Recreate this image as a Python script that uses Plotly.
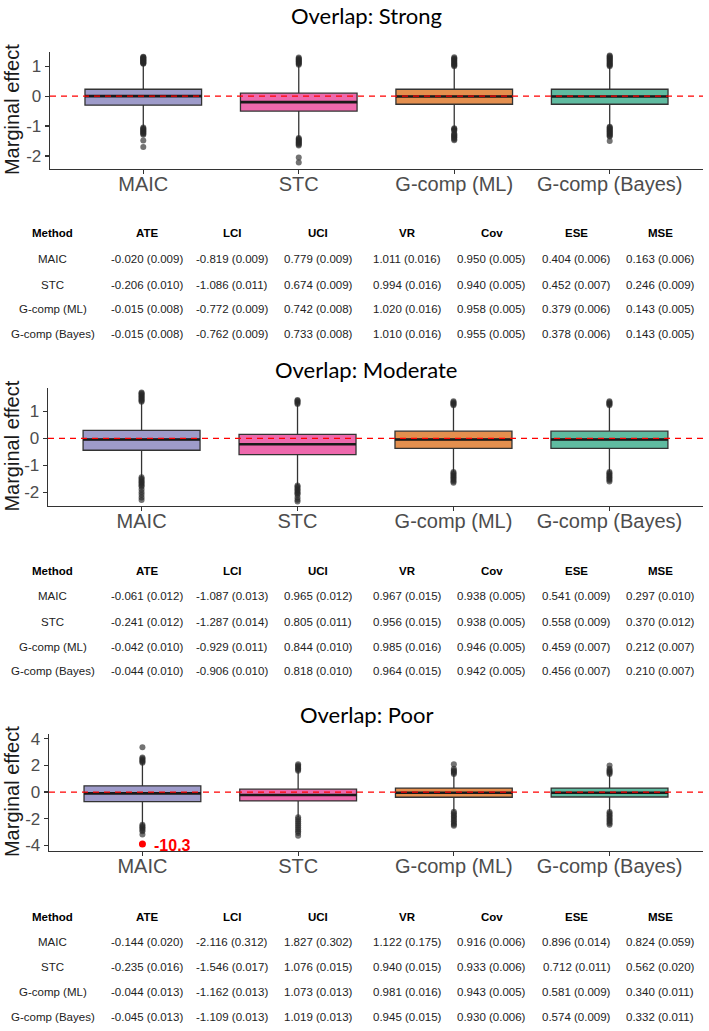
import plotly.graph_objects as go

W, H = 709, 1031

methods = ["MAIC", "STC", "G-comp (ML)", "G-comp (Bayes)"]
box_colors = ["#9E9BCA", "#EE69AD", "#E48F4E", "#5FBBA0"]

# ---------------- Box statistics ----------------
strong_q1 = [-0.30, -0.50, -0.27, -0.27]
strong_median = [0.00, -0.20, -0.01, -0.01]
strong_q3 = [0.23, 0.10, 0.23, 0.23]
strong_lower = [-1.05, -1.38, -1.05, -1.02]
strong_upper = [1.08, 1.05, 1.00, 1.00]
strong_out_maic = [1.08, 1.10, 1.12, 1.14, 1.16, 1.18, 1.20, 1.22, 1.24, 1.26, 1.28, 1.30, 1.32,
                   -1.05, -1.08, -1.11, -1.14, -1.17, -1.20, -1.23, -1.26, -1.29, -1.48, -1.70]
strong_out_stc = [1.05, 1.08, 1.11, 1.14, 1.17, 1.20, 1.23, 1.26, 1.29,
                  -1.40, -1.43, -1.46, -1.49, -1.52, -1.55, -1.58, -1.62, -1.65, -2.05, -2.22]
strong_out_ml = [1.00, 1.03, 1.06, 1.09, 1.12, 1.15, 1.18, 1.21, 1.24, 1.27, 1.30,
                 -1.07, -1.10, -1.13, -1.16, -1.25, -1.28, -1.31, -1.34, -1.37, -1.40, -1.44, -1.47]
strong_out_bayes = [1.00, 1.03, 1.06, 1.09, 1.12, 1.15, 1.18, 1.21, 1.24, 1.27, 1.30, 1.33, 1.36,
                    -1.02, -1.05, -1.08, -1.11, -1.14, -1.17, -1.20, -1.23, -1.26, -1.29, -1.32, -1.35, -1.50]

moderate_q1 = [-0.44, -0.60, -0.37, -0.37]
moderate_median = [-0.04, -0.22, -0.04, -0.04]
moderate_q3 = [0.30, 0.15, 0.27, 0.27]
moderate_lower = [-1.45, -1.73, -1.25, -1.25]
moderate_upper = [1.36, 1.27, 1.23, 1.23]
moderate_out_maic = [1.36, 1.40, 1.44, 1.48, 1.52, 1.56, 1.60, 1.64, 1.68, 1.71,
                     -1.45, -1.50, -1.55, -1.60, -1.65, -1.70, -1.75, -1.80, -1.90, -2.00, -2.10, -2.20, -2.29]
moderate_out_stc = [1.28, 1.32, 1.36, 1.40, 1.43,
                    -1.75, -1.80, -1.85, -1.90, -1.95, -2.00, -2.05, -2.10, -2.20, -2.28, -2.35]
moderate_out_ml = [1.23, 1.27, 1.31, 1.35, 1.38,
                   -1.25, -1.30, -1.35, -1.40, -1.45, -1.50, -1.55, -1.60, -1.65]
moderate_out_bayes = [1.23, 1.27, 1.31, 1.35, 1.38,
                      -1.25, -1.30, -1.35, -1.40, -1.45, -1.50, -1.55, -1.60]

poor_q1 = [-0.72, -0.67, -0.39, -0.37]
poor_median = [-0.10, -0.22, -0.05, -0.05]
poor_q3 = [0.47, 0.22, 0.30, 0.30]
poor_lower = [-2.45, -1.90, -1.45, -1.48]
poor_upper = [2.20, 1.60, 1.36, 1.36]
poor_out_maic = [2.20, 2.28, 2.36, 2.44, 2.52, 2.60, 3.38,
                 -2.45, -2.55, -2.65, -2.75, -2.85, -2.95, -3.20]
poor_out_stc = [1.60, 1.70, 1.80, 1.90, 2.00, 2.10,
                -1.90, -2.05, -2.20, -2.35, -2.50, -2.65, -2.80, -2.95, -3.08, -3.28]
poor_out_ml = [1.36, 1.45, 1.55, 1.65, 1.75, 2.10,
               -1.48, -1.60, -1.72, -1.84, -1.96, -2.08, -2.20, -2.32, -2.44, -2.54]
poor_out_bayes = [1.36, 1.45, 1.55, 1.65, 1.75, 2.00,
                  -1.50, -1.62, -1.74, -1.86, -1.98, -2.10, -2.22, -2.34, -2.46]
poor_offscale_value = -10.3
poor_offscale_shown_at = -3.9

# ---------------- Table values ----------------
table_headers = ["Method", "ATE", "LCI", "UCI", "VR", "Cov", "ESE", "MSE"]

strong_ate = ["-0.020 (0.009)", "-0.206 (0.010)", "-0.015 (0.008)", "-0.015 (0.008)"]
strong_lci = ["-0.819 (0.009)", "-1.086 (0.011)", "-0.772 (0.009)", "-0.762 (0.009)"]
strong_uci = ["0.779 (0.009)", "0.674 (0.009)", "0.742 (0.008)", "0.733 (0.008)"]
strong_vr = ["1.011 (0.016)", "0.994 (0.016)", "1.020 (0.016)", "1.010 (0.016)"]
strong_cov = ["0.950 (0.005)", "0.940 (0.005)", "0.958 (0.005)", "0.955 (0.005)"]
strong_ese = ["0.404 (0.006)", "0.452 (0.007)", "0.379 (0.006)", "0.378 (0.006)"]
strong_mse = ["0.163 (0.006)", "0.246 (0.009)", "0.143 (0.005)", "0.143 (0.005)"]

moderate_ate = ["-0.061 (0.012)", "-0.241 (0.012)", "-0.042 (0.010)", "-0.044 (0.010)"]
moderate_lci = ["-1.087 (0.013)", "-1.287 (0.014)", "-0.929 (0.011)", "-0.906 (0.010)"]
moderate_uci = ["0.965 (0.012)", "0.805 (0.011)", "0.844 (0.010)", "0.818 (0.010)"]
moderate_vr = ["0.967 (0.015)", "0.956 (0.015)", "0.985 (0.016)", "0.964 (0.015)"]
moderate_cov = ["0.938 (0.005)", "0.938 (0.005)", "0.946 (0.005)", "0.942 (0.005)"]
moderate_ese = ["0.541 (0.009)", "0.558 (0.009)", "0.459 (0.007)", "0.456 (0.007)"]
moderate_mse = ["0.297 (0.010)", "0.370 (0.012)", "0.212 (0.007)", "0.210 (0.007)"]

poor_ate = ["-0.144 (0.020)", "-0.235 (0.016)", "-0.044 (0.013)", "-0.045 (0.013)"]
poor_lci = ["-2.116 (0.312)", "-1.546 (0.017)", "-1.162 (0.013)", "-1.109 (0.013)"]
poor_uci = ["1.827 (0.302)", "1.076 (0.015)", "1.073 (0.013)", "1.019 (0.013)"]
poor_vr = ["1.122 (0.175)", "0.940 (0.015)", "0.981 (0.016)", "0.945 (0.015)"]
poor_cov = ["0.916 (0.006)", "0.933 (0.006)", "0.943 (0.005)", "0.930 (0.006)"]
poor_ese = ["0.896 (0.014)", "0.712 (0.011)", "0.581 (0.009)", "0.574 (0.009)"]
poor_mse = ["0.824 (0.059)", "0.562 (0.020)", "0.340 (0.011)", "0.332 (0.011)"]

# ---------------- Layout geometry (pixels) ----------------
def fx(px):
    return px / W

def fy(py):
    return 1 - py / H

panels = [
    dict(title="Overlap: Strong", q1=strong_q1, med=strong_median, q3=strong_q3,
         lo=strong_lower, hi=strong_upper,
         outs=[strong_out_maic, strong_out_stc, strong_out_ml, strong_out_bayes],
         cols=[methods, strong_ate, strong_lci, strong_uci, strong_vr, strong_cov, strong_ese, strong_mse],
         px=(50, 703), py=(48, 166), yr=[-2.42, 1.49], yt=[-2, -1, 0, 1],
         title_y=12, rows_y=[231.5, 257.5, 283, 308, 333]),
    dict(title="Overlap: Moderate", q1=moderate_q1, med=moderate_median, q3=moderate_q3,
         lo=moderate_lower, hi=moderate_upper,
         outs=[moderate_out_maic, moderate_out_stc, moderate_out_ml, moderate_out_bayes],
         cols=[methods, moderate_ate, moderate_lci, moderate_uci, moderate_vr, moderate_cov, moderate_ese, moderate_mse],
         px=(48, 703), py=(387, 506), yr=[-2.5, 1.89], yt=[-2, -1, 0, 1],
         title_y=369, rows_y=[571.5, 597, 623, 648.5, 673]),
    dict(title="Overlap: Poor", q1=poor_q1, med=poor_median, q3=poor_q3,
         lo=poor_lower, hi=poor_upper,
         outs=[poor_out_maic, poor_out_stc, poor_out_ml, poor_out_bayes],
         cols=[methods, poor_ate, poor_lci, poor_uci, poor_vr, poor_cov, poor_ese, poor_mse],
         px=(49, 703), py=(736, 854), yr=[-4.4, 4.4], yt=[-4, -2, 0, 2, 4],
         title_y=717, rows_y=[921, 946.5, 971.5, 996.5, 1021.5]),
]

col_x = [53, 147, 232, 318, 407, 491.5, 576.5, 660]

fig = go.Figure()
annotations = []
shapes = []
layout_axes = {}

AX = "#333333"
TXT = "#4D4D4D"
FONT = "Liberation Sans, Arial, sans-serif"

for k, p in enumerate(panels, start=1):
    xa = "x" if k == 1 else f"x{k}"
    ya = "y" if k == 1 else f"y{k}"
    for i, m in enumerate(methods):
        fig.add_trace(go.Box(
            x=[i], q1=[p["q1"][i]], median=[p["med"][i]], q3=[p["q3"][i]],
            lowerfence=[p["lo"][i]], upperfence=[p["hi"][i]],
            width=0.75, whiskerwidth=0, fillcolor=box_colors[i],
            line=dict(color=AX, width=1.3), boxpoints=False,
            xaxis=xa, yaxis=ya, hoverinfo="skip", name=m))
        # outliers
        fig.add_trace(go.Scatter(
            x=[i] * len(p["outs"][i]), y=p["outs"][i], mode="markers",
            marker=dict(color="rgba(40,40,40,0.65)", size=6, line=dict(width=0)),
            xaxis=xa, yaxis=ya, hoverinfo="skip"))
    # thicker median lines
    mx, my = [], []
    for i in range(len(methods)):
        mx += [i - 0.375, i + 0.375, None]
        my += [p["med"][i], p["med"][i], None]
    fig.add_trace(go.Scatter(x=mx, y=my, mode="lines",
                             line=dict(color="#1a1a1a", width=2.6),
                             xaxis=xa, yaxis=ya, hoverinfo="skip"))

    if k == 3:
        fig.add_trace(go.Scatter(x=[0], y=[poor_offscale_shown_at], mode="markers",
                                 marker=dict(color="red", size=7),
                                 xaxis=xa, yaxis=ya, hoverinfo="skip"))
        annotations.append(dict(
            x=0.06, y=poor_offscale_shown_at - 0.1, xref=xa, yref=ya,
            text=f"<b>{poor_offscale_value}</b>", showarrow=False,
            xanchor="left", yanchor="middle",
            font=dict(family=FONT, size=16, color="red")))

    axkey = "" if k == 1 else str(k)
    layout_axes["xaxis" + axkey] = dict(
        domain=[fx(p["px"][0]), fx(p["px"][1])], anchor=ya, range=[-0.6, 3.6],
        tickvals=list(range(len(methods))), ticktext=methods,
        showline=True, linecolor=AX, linewidth=1.3, ticks="outside", ticklen=4,
        tickcolor=AX, tickwidth=1.2, showgrid=False, zeroline=False,
        ticklabelstandoff=-7,
        tickfont=dict(family=FONT, size=20, color=TXT), fixedrange=True)
    layout_axes["yaxis" + axkey] = dict(
        domain=[fy(p["py"][1]), fy(p["py"][0])], anchor=xa, range=p["yr"],
        tickvals=p["yt"], ticktext=[str(v) for v in p["yt"]],
        showline=True, linecolor=AX, linewidth=1.3, ticks="outside", ticklen=4,
        tickcolor=AX, tickwidth=1.2, showgrid=False, zeroline=False,
        tickfont=dict(family=FONT, size=17, color=TXT), fixedrange=True)

    # red dashed reference line at 0
    shapes.append(dict(type="line", xref=xa + " domain", x0=0, x1=1, yref=ya, y0=0, y1=0,
                       line=dict(color="red", width=1.3, dash="6px,5px"), layer="above"))

    # panel title
    annotations.append(dict(x=fx(366), y=fy(p["title_y"]), xref="paper", yref="paper",
                            text=p["title"], showarrow=False, xanchor="center", yanchor="middle",
                            font=dict(family="Lato, Open Sans, sans-serif", size=22, color="black")))
    # y axis title
    annotations.append(dict(x=fx(12), y=fy((p["py"][0] + p["py"][1]) / 2), xref="paper", yref="paper",
                            text="Marginal effect", showarrow=False, textangle=-90,
                            xanchor="center", yanchor="middle",
                            font=dict(family=FONT, size=20, color="#1a1a1a")))
    # table
    for c, header in enumerate(table_headers):
        annotations.append(dict(x=fx(col_x[c]), y=fy(p["rows_y"][0]), xref="paper", yref="paper",
                                text=f"<b>{header}</b>", showarrow=False,
                                xanchor="center", yanchor="middle",
                                font=dict(family=FONT, size=11.5, color="black")))
        for r, val in enumerate(p["cols"][c]):
            annotations.append(dict(x=fx(col_x[c]), y=fy(p["rows_y"][r + 1]), xref="paper", yref="paper",
                                    text=val, showarrow=False, xanchor="center", yanchor="middle",
                                    font=dict(family=FONT, size=11.5, color="#222222")))

fig.update_layout(
    width=W, height=H, margin=dict(l=0, r=0, t=0, b=0),
    paper_bgcolor="white", plot_bgcolor="white", showlegend=False,
    annotations=annotations, shapes=shapes, **layout_axes)

fig.write_html(
    "out.html",
    config={"displayModeBar": False, "staticPlot": True},
    post_script="document.body.style.margin='0';document.body.style.padding='0';"
                "document.body.style.overflow='hidden';",
)
